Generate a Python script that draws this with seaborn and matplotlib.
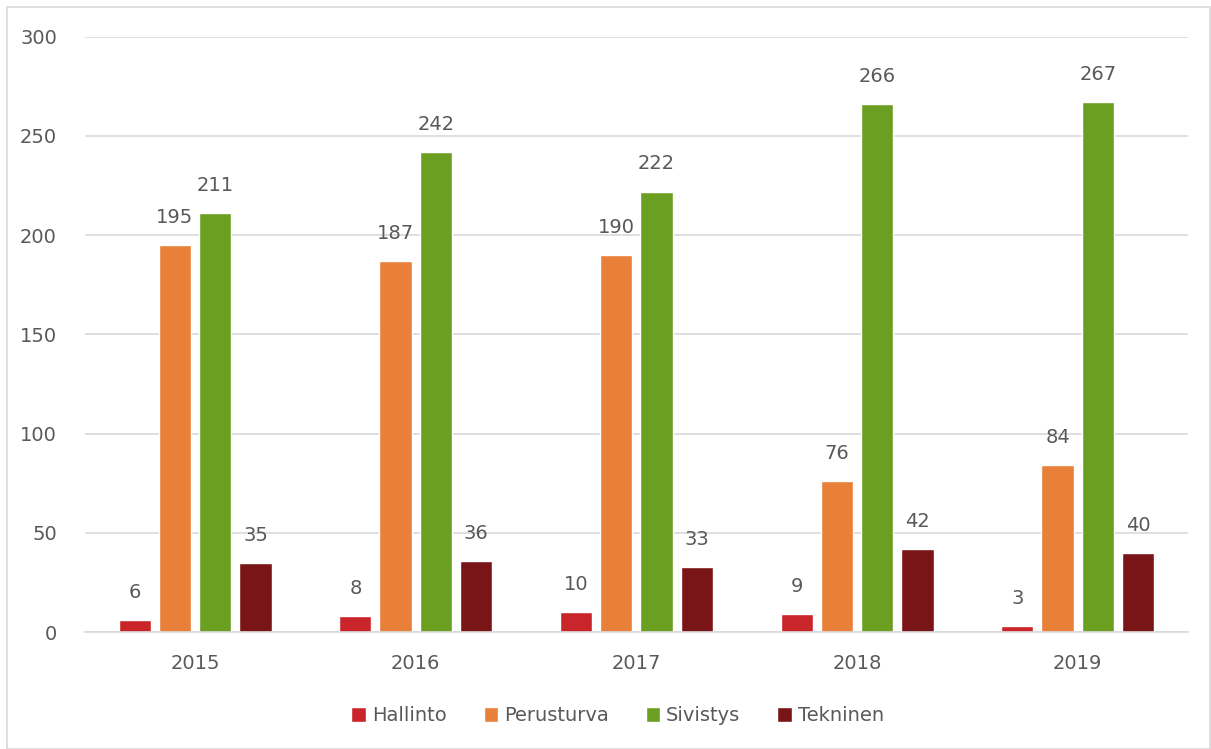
import matplotlib
matplotlib.use("Agg")
import matplotlib.pyplot as plt
import seaborn as sns
import pandas as pd
from matplotlib.patches import Rectangle

years = ["2015", "2016", "2017", "2018", "2019"]
hallinto = [6, 8, 10, 9, 3]
perusturva = [195, 187, 190, 76, 84]
sivistys = [211, 242, 222, 266, 267]
tekninen = [35, 36, 33, 42, 40]
series_names = ["Hallinto", "Perusturva", "Sivistys", "Tekninen"]
colors = ["#C9252B", "#E8803A", "#6A9F22", "#7A1517"]

rows = []
for name, vals in zip(series_names, [hallinto, perusturva, sivistys, tekninen]):
    for y, v in zip(years, vals):
        rows.append({"Vuosi": y, "Sarja": name, "Arvo": v})
df = pd.DataFrame(rows)

sns.set_theme(style="white")
plt.rcParams['font.family'] = ['DejaVu Sans']
text_color = "#595959"
fs = 14

fig = plt.figure(figsize=(12.11, 7.49), dpi=100)
ax = fig.add_axes([0.070, 0.156, 0.911, 0.795])

sns.barplot(data=df, x="Vuosi", y="Arvo", hue="Sarja", palette=colors,
            hue_order=series_names, order=years, width=0.73, gap=0.2,
            ax=ax, legend=True, saturation=1)

for cont in ax.containers:
    ax.bar_label(cont, fmt="%d", padding=13, fontsize=fs, color=text_color)

ax.set_ylim(0, 300)
ax.set_yticks(range(0, 301, 50))
ax.set_xlim(-0.5, 4.5)
ax.yaxis.grid(True, color="#d9d9d9", linewidth=1.2)
ax.set_axisbelow(True)
for s in ["top", "right", "left"]:
    ax.spines[s].set_visible(False)
ax.spines["bottom"].set_color("#d9d9d9")
ax.spines["bottom"].set_linewidth(1.2)
ax.tick_params(axis="both", length=0, labelsize=fs, colors=text_color)
ax.tick_params(axis="y", pad=20)
ax.tick_params(axis="x", pad=16)
ax.set_xlabel("")
ax.set_ylabel("")

leg = ax.legend(loc="upper center", bbox_to_anchor=(0.483, -0.095), ncol=4,
                frameon=False, fontsize=fs, handlelength=0.75, handleheight=0.75,
                handletextpad=0.3, columnspacing=1.9)
for t in leg.get_texts():
    t.set_color(text_color)

fig.patches.append(Rectangle((7/1211, 0), 1 - 8/1211, 1 - 7/749, transform=fig.transFigure,
                             fill=False, edgecolor="#d9d9d9", linewidth=1.2))

fig.savefig("out.png", dpi=100, facecolor="white")
